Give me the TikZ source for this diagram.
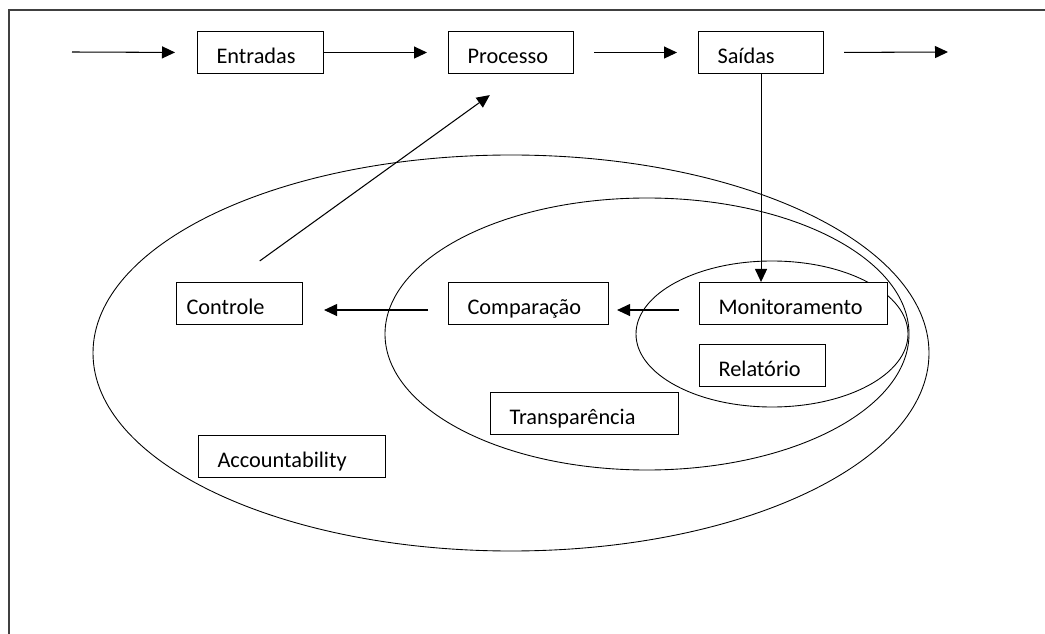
\documentclass[tikz,border=0pt]{standalone}
\usepackage{fontspec}
\setmainfont{Carlito}
\usetikzlibrary{arrows.meta}

\begin{document}
\begin{tikzpicture}[
  box/.style={draw, fill=white, line width=0.6pt, anchor=north west,
              inner xsep=0.38cm, inner ysep=0pt, minimum height=0.84cm,
              text height=0.5cm, text depth=0.06cm, align=left,
              font=\fontsize{12.7}{15}\selectfont},
  arr/.style={-{Triangle[length=0.26cm, width=0.24cm]}, line width=0.6pt},
  ring/.style={line width=0.5pt}]
\useasboundingbox (0,0) rectangle (20.9,-12.68);
\draw[line width=0.8pt, black!75] (0.18,-12.68) -- (0.18,-0.2) -- (20.9,-0.2);
\draw[ring] (10.22,-7.06) ellipse [x radius=8.36cm, y radius=3.96cm];
\draw[ring] (12.94,-6.68) ellipse [x radius=5.24cm, y radius=2.72cm];
\draw[ring] (15.44,-6.68) ellipse [x radius=2.72cm, y radius=1.46cm];
\node[box, text width=1.76cm] (ent) at (3.94,-0.62) {Entradas};
\node[box, text width=1.74cm] (proc) at (8.96,-0.62) {Processo};
\node[box, text width=1.74cm] (sai) at (13.96,-0.62) {Saídas};
\node[box, text width=2.12cm, inner xsep=0.2cm] (ctrl) at (3.52,-5.64) {Controle};
\node[box, text width=2.44cm] (comp) at (8.96,-5.64) {Comparação};
\node[box, text width=3.00cm] (mon) at (13.98,-5.64) {Monitoramento};
\node[box, text width=1.76cm] (rel) at (13.98,-6.88) {Relatório};
\node[box, text width=3.00cm] (transp) at (9.80,-7.84) {Transparência};
\node[box, text width=2.98cm] (acc) at (3.96,-8.70) {Accountability};
\coordinate (in) at (1.44,-1.04);
\coordinate (out) at (18.96,-1.04);
\draw[arr, shorten >=0.44cm] (in) -- (ent.west);
\draw[arr, shorten >=0.42cm] (ent.east) -- (proc.west);
\draw[arr, shorten <=0.4cm, shorten >=0.42cm] (proc.east) -- (sai.west);
\draw[arr, shorten <=0.4cm] (sai.east) -- (out);
\draw[arr] (sai.south) -- (sai.south |- mon.north);
\draw[arr, shorten <=0.4cm, shorten >=0.16cm] ([yshift=-0.13cm]mon.west) -- ([yshift=-0.13cm]comp.east);
\draw[arr, shorten <=0.4cm, shorten >=0.42cm] ([yshift=-0.13cm]comp.west) -- ([yshift=-0.13cm]ctrl.east);
\draw[arr, shorten <=0.72cm, shorten >=0.72cm] ([xshift=-0.18cm]ctrl.north) -- ([xshift=0.16cm]proc.south);
\end{tikzpicture}
\end{document}
